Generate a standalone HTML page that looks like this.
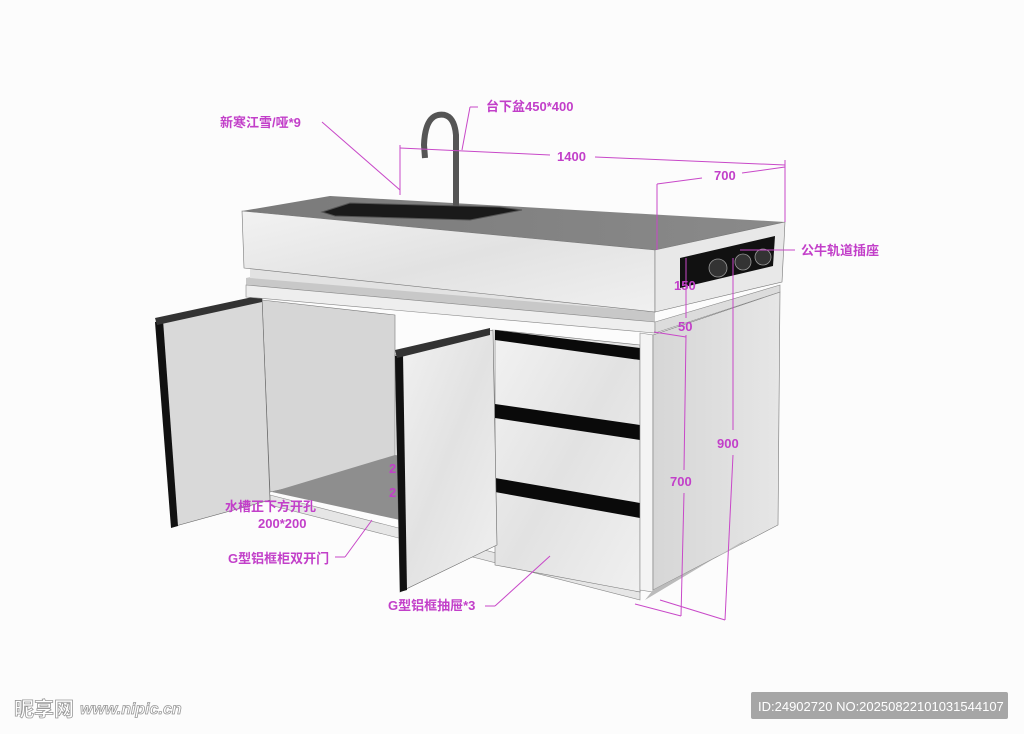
<!DOCTYPE html>
<html><head><meta charset="utf-8"><style>
html,body{margin:0;padding:0;background:#fcfcfc;}
svg{display:block}
text{font-family:"Liberation Sans","Noto Sans CJK SC",sans-serif;font-weight:bold;fill:#c23fc9;font-size:13px}
</style></head><body>
<svg width="1024" height="734" viewBox="0 0 1024 734" xmlns="http://www.w3.org/2000/svg">
<defs>
<linearGradient id="m" x1="0" y1="0" x2="1" y2="1">
<stop offset="0" stop-color="#f2f2f2"/><stop offset="0.5" stop-color="#e2e2e2"/><stop offset="1" stop-color="#f0f0f0"/></linearGradient>
<linearGradient id="s" x1="0" y1="0" x2="1" y2="0">
<stop offset="0" stop-color="#d6d6d6"/><stop offset="1" stop-color="#e6e6e6"/></linearGradient>
<linearGradient id="t" x1="0" y1="0" x2="1" y2="0">
<stop offset="0" stop-color="#7a7a7a"/><stop offset="1" stop-color="#8a8a8a"/></linearGradient>
</defs>
<rect width="1024" height="734" fill="#fcfcfc"/>

<polygon points="270,495 640,590 640,600 270,505" fill="#e6e6e6" stroke="#888" stroke-width="0.6"/>
<polygon points="262,300 395,315 395,465 270,492" fill="#d6d6d6" stroke="#777" stroke-width="0.6"/>
<polygon points="272,492 395,455 490,468 400,520" fill="#8e8e8e"/>
<polygon points="157,320 262,297 270,500 172,527" fill="#d9d9d9" stroke="#666" stroke-width="0.6"/>
<polygon points="155,322 163,320 178,526 171,528" fill="#111"/>
<polygon points="155,318 262,295 262,302 157,325" fill="#333"/>
<polygon points="495,330 640,345 640,592 495,565" fill="url(#m)" stroke="#777" stroke-width="0.6"/>
<polygon points="495,330 640,348 640,360 495,340" fill="#0a0a0a"/>
<polygon points="495,404 640,425 640,440 495,418" fill="#0a0a0a"/>
<polygon points="495,478 640,503 640,518 495,492" fill="#0a0a0a"/>
<polygon points="640,333 653,335 653,592 640,590" fill="#f4f4f4" stroke="#888" stroke-width="0.6"/>
<polygon points="653,335 780,292 778,525 653,590" fill="url(#s)" stroke="#777" stroke-width="0.6"/>
<polygon points="653,590 740,545 745,540 645,600" fill="#bbb"/>
<polygon points="395,355 493,330 497,545 400,592" fill="url(#m)" stroke="#666" stroke-width="0.6"/>
<polygon points="395,356 403,354 407,590 400,592" fill="#111"/>
<polygon points="395,350 490,328 490,335 397,358" fill="#333"/>

<polygon points="246,278 260,275 655,310 655,322 246,290" fill="#c8c8c8"/>
<polygon points="246,285 655,322 655,333 246,297" fill="#eeeeee" stroke="#888" stroke-width="0.6"/>
<polygon points="655,322 780,285 780,292 655,333" fill="#dcdcdc" stroke="#888" stroke-width="0.6"/>
<polygon points="250,266 655,305 655,312 250,278" fill="#e2e2e2"/>
<polygon points="242,211 330,196 785,222 655,250" fill="url(#t)"/>
<polygon points="322,212 350,203 500,207 522,210 470,220 335,216" fill="#1a1a1a" stroke="#555"/>
<polygon points="242,211 655,250 655,312 244,268" fill="url(#m)" stroke="#777" stroke-width="0.6"/>
<polygon points="655,250 785,222 782,282 655,312" fill="#e8e8e8" stroke="#777" stroke-width="0.6"/>
<polygon points="680,258 775,236 773,266 680,288" fill="#111"/>
<circle cx="718" cy="268" r="9" fill="#333" stroke="#999" stroke-width="0.8"/>
<circle cx="743" cy="262" r="8" fill="#333" stroke="#999" stroke-width="0.8"/>
<circle cx="763" cy="257" r="8" fill="#333" stroke="#999" stroke-width="0.8"/>
<path d="M456,206 L456,135 Q454,112 438,115 Q425,118 424,145 L425,158" fill="none" stroke="#555" stroke-width="6"/>

<g stroke="#c848c8" stroke-width="1" fill="none">
<line x1="322" y1="122" x2="400" y2="190"/>
<line x1="400" y1="145" x2="400" y2="195"/>
<line x1="400" y1="148" x2="550" y2="155"/>
<line x1="595" y1="157" x2="785" y2="165"/>
<line x1="785" y1="160" x2="785" y2="222"/>
<line x1="657" y1="184" x2="702" y2="178"/>
<line x1="742" y1="173" x2="785" y2="167"/>
<line x1="657" y1="184" x2="657" y2="250"/>
<line x1="470" y1="107" x2="478" y2="107"/>
<line x1="470" y1="107" x2="462" y2="150"/>
<line x1="740" y1="250" x2="795" y2="250"/>
<line x1="686" y1="258" x2="686" y2="318"/>
<line x1="733" y1="258" x2="733" y2="430"/>
<line x1="733" y1="455" x2="725" y2="620"/>
<line x1="686" y1="335" x2="684" y2="470"/>
<line x1="684" y1="493" x2="681" y2="616"/>
<line x1="654" y1="332" x2="686" y2="337"/>
<line x1="635" y1="604" x2="681" y2="616"/>
<line x1="660" y1="600" x2="725" y2="620"/>
<line x1="335" y1="557" x2="345" y2="557"/>
<line x1="345" y1="557" x2="372" y2="520"/>
<line x1="485" y1="606" x2="495" y2="606"/>
<line x1="495" y1="606" x2="550" y2="556"/>
</g>
<text x="220" y="127">新寒江雪/哑*9</text>
<text x="486" y="111">台下盆450*400</text>
<text x="557" y="161">1400</text>
<text x="714" y="180">700</text>
<text x="801" y="255">公牛轨道插座</text>
<text x="674" y="290">150</text>
<text x="678" y="331">50</text>
<text x="717" y="448">900</text>
<text x="670" y="486">700</text>
<text x="389" y="473">2</text>
<text x="389" y="497">2</text>
<text x="225" y="511">水槽正下方开孔</text>
<text x="258" y="528">200*200</text>
<text x="228" y="563">G型铝框柜双开门</text>
<text x="388" y="610">G型铝框抽屉*3</text>

<text x="14" y="716" style="fill:#fff;stroke:#999;stroke-width:0.8;font-size:20px">昵享网</text>
<text x="80" y="714" style="fill:#fff;stroke:#999;stroke-width:0.8;font-size:16px;font-style:italic">www.nipic.cn</text>
<rect x="751" y="692" width="257" height="27" rx="2" fill="#a6a6a6"/>
<text x="758" y="711" style="fill:#fff;font-weight:normal;font-size:13px">ID:24902720 NO:20250822101031544107</text>
</svg>
</body></html>
